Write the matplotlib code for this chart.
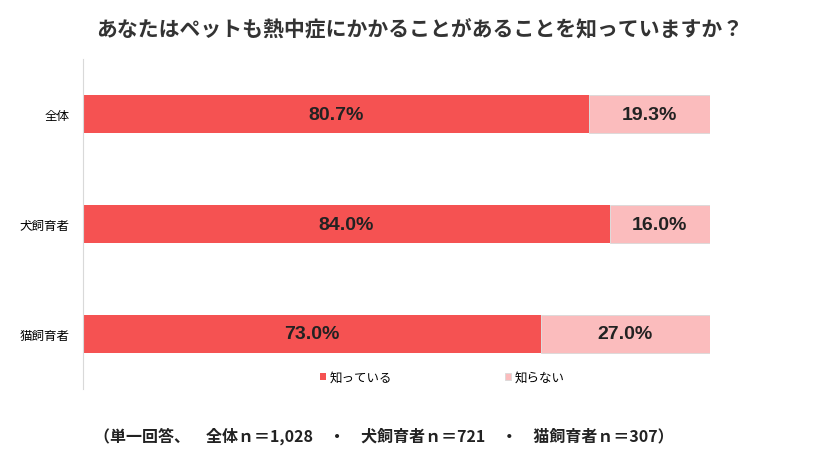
import matplotlib.pyplot as plt

plt.rcParams['font.family'] = ['Noto Sans CJK JP', 'DejaVu Sans']

categories = ['全体', '犬飼育者', '猫飼育者']
know = [80.7, 84.0, 73.0]
not_know = [19.3, 16.0, 27.0]
series_names = ['知っている', '知らない']
colors = ['#F55252', '#FBBCBD']

fig = plt.figure(figsize=(8.4, 4.56), dpi=100)
ax = fig.add_axes([0.099, 0.145, 0.746, 0.723])

y = range(len(categories))
ax.barh(y, know, height=0.35, color=colors[0], label=series_names[0])
ax.barh(y, not_know, left=know, height=0.35, color=colors[1], label=series_names[1],
        edgecolor='#D9D9D9', linewidth=0.6)
for i in y:
    ax.text(know[i] / 2, i, f'{know[i]:.1f}%', ha='center', va='center',
            fontsize=14, fontweight='bold', color='#222222', family='Liberation Sans')
    ax.text(know[i] + not_know[i] / 2, i, f'{not_know[i]:.1f}%', ha='center', va='center',
            fontsize=14, fontweight='bold', color='#222222', family='Liberation Sans')

ax.set_xlim(0, 100)
ax.set_ylim(2.5, -0.5)
ax.set_yticks(list(y))
ax.set_yticklabels(categories, fontsize=9)
ax.set_xticks([])
ax.tick_params(axis='y', length=0, pad=10)
for s in ['top', 'right', 'bottom']:
    ax.spines[s].set_visible(False)
ax.spines['left'].set_color('#D9D9D9')

ax.legend(loc='center left', bbox_to_anchor=(0.36, 0.035), ncol=2, frameon=False,
          fontsize=9, handlelength=0.5, handleheight=0.5, handletextpad=0.3,
          columnspacing=9)

fig.text(0.5, 0.935, 'あなたはペットも熱中症にかかることがあることを知っていますか？',
         ha='center', va='center', fontsize=15, fontweight='bold', color='#333333')
fig.text(0.112, 0.043, '（単一回答、　全体ｎ＝1,028　・　犬飼育者ｎ＝721　・　猫飼育者ｎ＝307）',
         ha='left', va='center', fontsize=11.5, fontweight='bold', color='#222222')

fig.savefig('out.png', dpi=100)
